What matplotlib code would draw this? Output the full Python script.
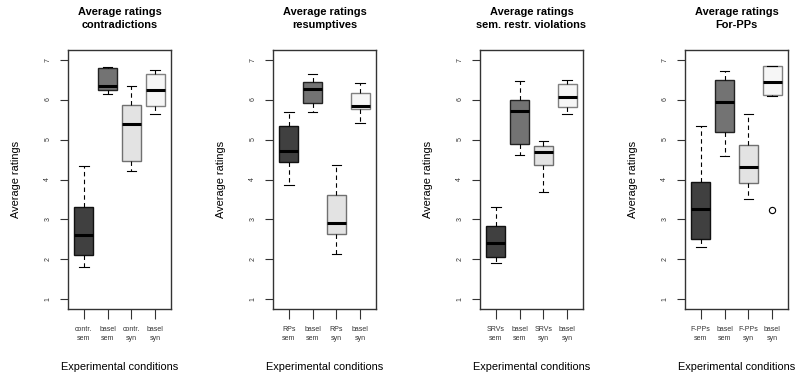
import matplotlib
matplotlib.use("Agg")
import matplotlib.pyplot as plt

plt.rcParams['font.family'] = ['Liberation Sans', 'DejaVu Sans']

# panel titles and x tick labels
titles = ["Average ratings\ncontradictions", "Average ratings\nresumptives",
          "Average ratings\nsem. restr. violations", "Average ratings\nFor-PPs"]
conditions = [["contr.\nsem", "basel\nsem", "contr.\nsyn", "basel\nsyn"],
              ["RPs\nsem", "basel\nsem", "RPs\nsyn", "basel\nsyn"],
              ["SRVs\nsem", "basel\nsem", "SRVs\nsyn", "basel\nsyn"],
              ["F-PPs\nsem", "basel\nsem", "F-PPs\nsyn", "basel\nsyn"]]

# five-number summaries: whislo, q1, med, q3, whishi
contradictions = [[1.81, 2.11, 2.60, 3.31, 4.35],
                  [6.14, 6.23, 6.35, 6.78, 6.81],
                  [4.22, 4.46, 5.39, 5.87, 6.35],
                  [5.65, 5.85, 6.25, 6.63, 6.75]]
resumptives = [[3.87, 4.43, 4.71, 5.33, 5.68],
               [5.68, 5.91, 6.27, 6.44, 6.64],
               [2.14, 2.64, 2.92, 3.62, 4.36],
               [5.42, 5.77, 5.84, 6.16, 6.42]]
sem_violations = [[1.92, 2.05, 2.41, 2.83, 3.31],
                  [4.62, 4.89, 5.71, 6.00, 6.47],
                  [3.69, 4.36, 4.68, 4.85, 4.96],
                  [5.63, 5.82, 6.07, 6.38, 6.48]]
for_pps = [[2.30, 2.52, 3.25, 3.93, 5.33],
           [4.60, 5.18, 5.93, 6.48, 6.71],
           [3.52, 3.91, 4.32, 4.86, 5.64],
           [6.09, 6.11, 6.43, 6.83, 6.85]]
for_pps_outliers = [[], [], [], [3.23]]

panels = [contradictions, resumptives, sem_violations, for_pps]
outliers = [[[]] * 4, [[]] * 4, [[]] * 4, for_pps_outliers]

fills = ["#404040", "#737373", "#e3e3e3", "#f6f6f6"]
edges = ["#111111", "#222222", "#707070", "#808080"]

fig = plt.figure(figsize=(7.97, 3.77), dpi=100)
lefts = [68, 273, 480, 685]

for i, stats_vals in enumerate(panels):
    ax = fig.add_axes([lefts[i] / 797, 1 - 309 / 377, 103 / 797, 259 / 377])
    stats = []
    for vals, fl in zip(stats_vals, outliers[i]):
        stats.append(dict(whislo=vals[0], q1=vals[1], med=vals[2], q3=vals[3],
                          whishi=vals[4], fliers=fl))
    res = ax.bxp(stats, positions=[1, 2, 3, 4], widths=0.8, patch_artist=True,
                 whiskerprops=dict(linestyle=(0, (4, 3)), color="black", linewidth=0.8),
                 capprops=dict(color="black", linewidth=0.8),
                 medianprops=dict(color="black", linewidth=2.2, solid_capstyle="butt"),
                 flierprops=dict(marker="o", markerfacecolor="none", markeredgecolor="black",
                                 markersize=4.5, markeredgewidth=0.8))
    for patch, fc, ec in zip(res["boxes"], fills, edges):
        patch.set_facecolor(fc)
        patch.set_edgecolor(ec)
        patch.set_linewidth(1.0)
    ax.set_xlim(0.34, 4.66)
    ax.set_ylim(0.76, 7.24)
    ax.set_yticks([1, 2, 3, 4, 5, 6, 7])
    ax.set_yticklabels(["1", "2", "3", "4", "5", "6", "7"], rotation=90,
                       fontsize=5, va="center")
    ax.set_xticks([1, 2, 3, 4])
    ax.set_xticklabels(conditions[i], fontsize=5, linespacing=1.4)
    ax.tick_params(axis="y", length=6, width=0.8, pad=6, colors="#333333")
    ax.tick_params(axis="x", length=7, width=0.8, pad=5, colors="#333333")
    for sp in ax.spines.values():
        sp.set_color("#333333")
        sp.set_linewidth(1.0)
    ax.set_title(titles[i], fontsize=7.9, fontweight="bold", pad=16, linespacing=1.3)
    ax.set_ylabel("Average ratings", fontsize=7.9)
    ax.yaxis.set_label_coords(-0.46, 0.5)
    ax.set_xlabel("Experimental conditions", fontsize=7.9, va="center")
    ax.xaxis.set_label_coords(0.5, -0.224)

fig.savefig("out.png", dpi=100)
